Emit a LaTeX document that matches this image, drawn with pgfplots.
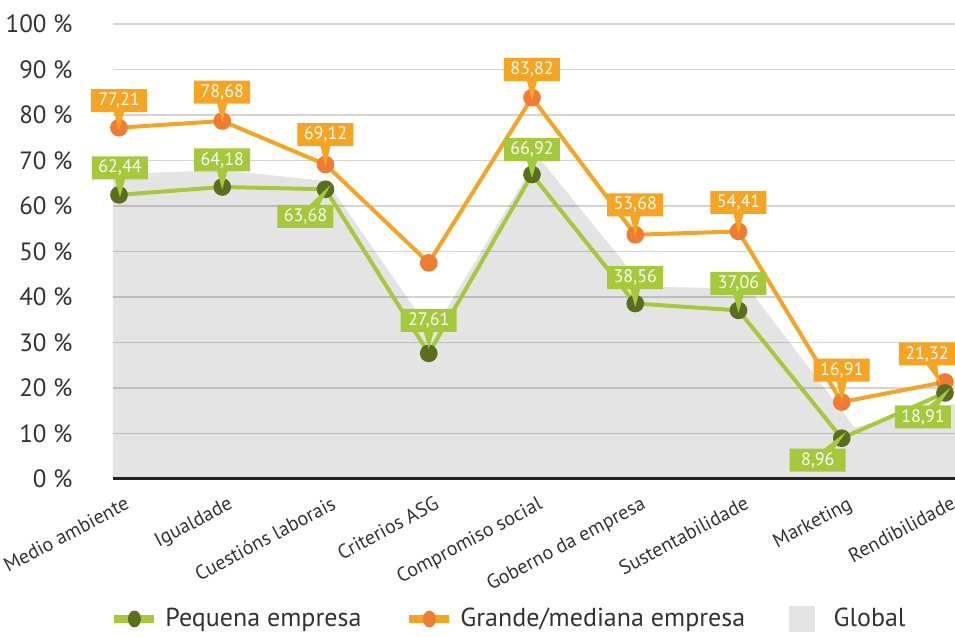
\documentclass[border=0pt]{standalone}
\usepackage{fontspec}
\setmainfont{PT Sans}
\usepackage{pgfplots}
\pgfplotsset{compat=1.18}
\usetikzlibrary{shapes.callouts}
\definecolor{lgreen}{HTML}{A5C93A}
\definecolor{dgreen}{HTML}{5B6D1E}
\definecolor{lorange}{HTML}{F7A521}
\definecolor{dorange}{HTML}{EE7D31}
\definecolor{gfill}{HTML}{E4E4E4}
\definecolor{txt}{HTML}{333333}
\tikzset{vbox/.style={rectangle callout, text=white, font=\fontsize{9}{10}\selectfont,
  minimum width=28pt, minimum height=11.5pt, inner sep=0pt, callout pointer width=5pt}}
\newcommand{\gb}[7]{\node[vbox, fill=lgreen, xshift=#3, yshift=#4, callout relative pointer={(#5,#6)}] at (axis cs:#1,#2) {#7};}
\newcommand{\ob}[7]{\node[vbox, fill=lorange, xshift=#3, yshift=#4, callout relative pointer={(#5,#6)}] at (axis cs:#1,#2) {#7};}
\begin{document}
\begin{tikzpicture}
\useasboundingbox (-56.5pt,-79pt) rectangle (421pt,239.5pt);
\begin{axis}[
  at={(0,0)}, anchor=south west, scale only axis,
  width=421pt, height=227.5pt,
  xmin=-0.058, xmax=8.097, ymin=0, ymax=100,
  axis x line=bottom, axis y line=left,
  x axis line style={-, line width=1.5pt, color=black!85},
  y axis line style={draw=none},
  xtick={0,...,8},
  xticklabels={Medio ambiente, Igualdade, Cuestións laborais, Criterios ASG, Compromiso social, Goberno da empresa, Sustentabilidade, Marketing, Rendibilidade},
  ytick={0,10,...,100},
  major tick length=0pt,
  ymajorgrids, grid style={color=black!17, line width=0.9pt},
  /pgf/number format/assume math mode=true,
  yticklabel={\pgfmathprintnumber{\tick}~\%},
  yticklabel style={font=\fontsize{12.5}{14}\selectfont, text=txt, inner sep=0pt, xshift=-20pt},
  xticklabel style={font=\fontsize{10}{12}\selectfont, text=txt, inner sep=0pt, xshift=2.5pt, yshift=-8pt, rotate=28, anchor=north east},
  clip mode=individual,
  legend style={at={(0.4715,-0.3077)}, anchor=center, draw=none, fill=none,
    font=\fontsize{13}{15}\selectfont, text=txt,
    /tikz/every even column/.append style={column sep=20pt}},
  legend columns=3,
]
\addplot[draw=none, fill=black, fill opacity=0.105, forget plot] coordinates {
(-0.06,67.0) (-0.03,67.0) (0.99,67.9) (2.01,65.5) (3.03,32.0) (4.06,70.8) (5.08,42.3) (6.10,41.8) (7.12,11.4) (8.14,16.7)
} \closedcycle;
\addplot[lorange, line width=2pt, mark=*, mark size=3.4pt, mark options={fill=dorange, draw=dorange}, forget plot] coordinates {
(0,77.21) (1,78.68) (2,69.12) (3,47.5) (4,83.82) (5,53.68) (6,54.41) (7,16.91) (8,21.32)
};
\addplot[lgreen, line width=2pt, mark=*, mark size=3.4pt, mark options={fill=dgreen, draw=dgreen}, forget plot] coordinates {
(0,62.44) (1,64.18) (2,63.68) (3,27.61) (4,66.92) (5,38.56) (6,37.06) (7,8.96) (8,18.91)
};
\addlegendimage{legend image code/.code={\draw[lgreen, line width=4pt] (0pt,0pt) -- (20pt,0pt); \fill[dgreen] (10pt,0pt) ellipse (3pt and 4pt); \path[draw=none, fill=none] (0pt,0pt) rectangle (23.5pt,0.1pt);}}
\addlegendentry{Pequena empresa}
\addlegendimage{legend image code/.code={\draw[lorange, line width=4pt] (0pt,0pt) -- (20pt,0pt); \fill[dorange] (10pt,0pt) ellipse (3pt and 4pt); \path[draw=none, fill=none] (0pt,0pt) rectangle (23.5pt,0.1pt);}}
\addlegendentry{Grande/mediana empresa}
\addlegendimage{legend image code/.code={\fill[gfill] (0pt,-6.25pt) rectangle (12.5pt,6.25pt); \path[draw=none, fill=none] (0pt,0pt) rectangle (20pt,0.1pt);}}
\addlegendentry{Global}
% value boxes
\gb{0}{62.44}{0.5pt}{13.5pt}{0pt}{-9pt}{62,44}
\gb{1}{64.18}{0pt}{13.5pt}{0pt}{-9pt}{64,18}
\gb{2}{63.68}{-10pt}{-13.5pt}{8pt}{10pt}{63,68}
\gb{3}{27.61}{0pt}{16.5pt}{0pt}{-8.5pt}{27,61}
\gb{4}{66.92}{0pt}{12.5pt}{0pt}{-8.5pt}{66,92}
\gb{5}{38.56}{0pt}{13pt}{0pt}{-9pt}{38,56}
\gb{6}{37.06}{0pt}{13.5pt}{0pt}{-9pt}{37,06}
\gb{7}{8.96}{-12pt}{-11pt}{8.5pt}{8.5pt}{8,96}
\gb{8}{18.91}{-11pt}{-12pt}{8.5pt}{9pt}{18,91}
\ob{0}{77.21}{0pt}{13.5pt}{0pt}{-9pt}{77,21}
\ob{1}{78.68}{0pt}{14.5pt}{0pt}{-9.5pt}{78,68}
\ob{2}{69.12}{0pt}{15pt}{0pt}{-10pt}{69,12}
\ob{4}{83.82}{0pt}{14pt}{0pt}{-9.5pt}{83,82}
\ob{5}{53.68}{0pt}{15pt}{0pt}{-10pt}{53,68}
\ob{6}{54.41}{0pt}{14.5pt}{0pt}{-10pt}{54,41}
\ob{7}{16.91}{0pt}{16pt}{0pt}{-10.5pt}{16,91}
\ob{8}{21.32}{-9pt}{14pt}{4pt}{-9pt}{21,32}
\end{axis}
\end{tikzpicture}
\end{document}
